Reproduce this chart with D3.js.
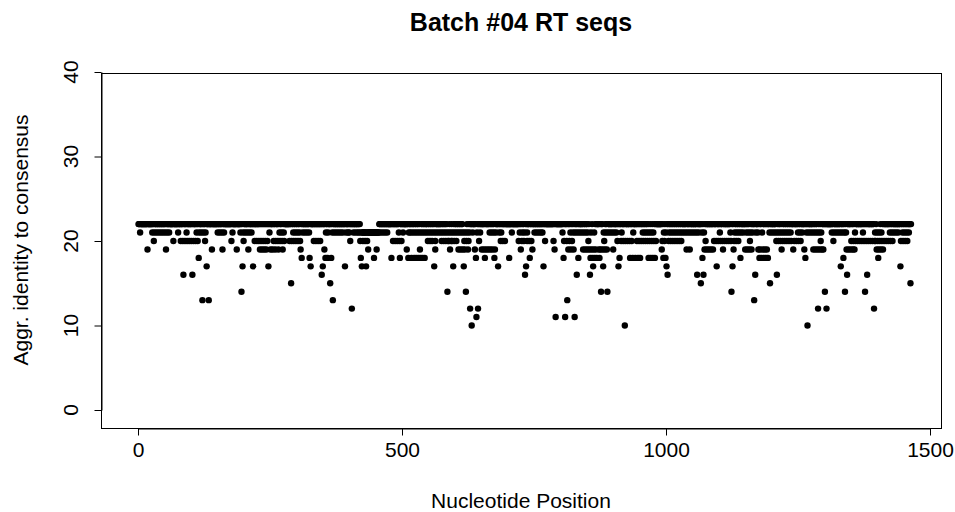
<!DOCTYPE html>
<html lang="en">
<head>
<meta charset="utf-8">
<title>Batch #04 RT seqs</title>
<script src="https://cdnjs.cloudflare.com/ajax/libs/d3/7.8.5/d3.min.js"></script>
<style>
  body { margin: 0; background: #fff; }
  text { font-family: "Liberation Sans", Arial, sans-serif; fill: #000; }
</style>
</head>
<body>
<div id="chart"></div>
<script>

// sequence length and the identity most positions reach
const seqLength = 1464;
const fullIdentity = 22;

// positions whose aggregated identity is below the full value, by level
const pos21 = [4, 27, 31, 35, 39, 43, 47, 51, 55, 59, 76, 92, 111, 116, 120, 124, 128,
  151, 155, 159, 163, 179, 194, 199, 203, 207, 211, 215, 249, 268, 272, 276,
  294, 298, 302, 306, 312, 316, 320, 324, 356, 360, 368, 372, 376, 380,
  384, 388, 394, 398, 400, 408, 412, 416, 419,
  423, 425, 427, 428, 429, 431, 433, 435, 437, 438, 439, 440, 441, 442, 443, 444, 445, 446,
  448, 449, 450, 451, 453, 454, 455, 456, 460, 464, 468, 472, 494, 502, 513,
  516, 520, 524, 528, 532, 536, 540, 544, 548, 552, 556, 560, 564, 568, 572, 576, 580,
  584, 588, 592, 596, 600, 604, 608, 612, 616, 620, 624, 628, 634, 642, 648,
  666, 670, 674, 678, 684, 688, 708, 723, 728, 732, 737, 751, 755, 759, 763, 766,
  804, 819, 824, 828, 832, 836, 840, 844, 848, 852, 858, 864, 882, 886, 890, 894, 898, 902, 906,
  916, 938, 956, 960, 964, 968, 972, 976,
  996, 1000, 1006, 1010, 1014, 1018, 1022, 1026, 1030, 1034, 1038, 1042,
  1046, 1050, 1054, 1058, 1062, 1068, 1072, 1102,
  1122, 1130, 1134, 1138, 1142, 1146, 1152, 1156, 1160, 1164, 1170, 1174, 1182,
  1196, 1200, 1204, 1208, 1212, 1216, 1220, 1224, 1228, 1232, 1236,
  1250, 1254, 1258, 1266, 1270, 1274, 1278, 1282, 1286, 1290, 1294,
  1314, 1318, 1322, 1326, 1330, 1334, 1338, 1341, 1358, 1373, 1396, 1400, 1404, 1408,
  1424, 1428, 1432, 1436, 1440, 1448, 1452, 1456, 1460];
const pos20 = [30, 67, 81, 85, 89, 93, 97, 101, 105, 109, 113, 127, 177, 200,
  221, 225, 229, 233, 237, 241, 245, 257, 261, 265, 269, 273, 277,
  287, 291, 295, 299, 303, 307, 333, 337, 341, 345, 402, 421, 426, 430, 434,
  483, 487, 491, 495, 499, 549, 553, 557, 563, 575, 579, 583, 587, 589, 593, 595, 599, 603,
  618, 622, 626, 646, 687, 691, 695, 721, 727, 731, 737, 741, 745, 771,
  787, 807, 812, 817, 822, 853, 883, 908,
  915, 919, 923, 927, 931, 935, 945, 949, 953, 957, 961, 965, 969, 973, 977, 981,
  993, 997, 1005, 1009, 1013, 1017, 1021, 1025, 1029, 1075,
  1091, 1095, 1099, 1103, 1107, 1111, 1115, 1119, 1123, 1129, 1133, 1137, 1159,
  1209, 1213, 1217, 1221, 1225, 1229, 1233, 1237, 1243, 1247, 1251, 1255, 1293, 1317,
  1351, 1355, 1359, 1363, 1367, 1371, 1375, 1379, 1383, 1387, 1391, 1395, 1397, 1401,
  1405, 1409, 1413, 1417, 1421, 1425, 1429, 1445, 1449, 1453, 1457];
const pos19 = [18, 53, 140, 160, 187, 209, 231, 235, 239, 243, 251, 255, 260, 266, 274, 308, 353,
  436, 452, 509, 534, 563, 591, 607, 611, 615, 619, 625, 638,
  651, 655, 659, 663, 667, 671, 676, 725, 747, 789, 815, 820, 825,
  843, 847, 851, 855, 859, 863, 867, 873, 876, 880, 884, 888, 900, 992, 1039, 1045,
  1073, 1077, 1081, 1085, 1089, 1108, 1128, 1150, 1154, 1158, 1162, 1175,
  1178, 1183, 1187, 1191, 1219, 1241, 1262, 1279, 1283, 1287, 1291, 1295, 1298,
  1342, 1346, 1350, 1354, 1357, 1399, 1403, 1407, 1411];
const pos18 = [115, 310, 325, 355, 359, 366, 422, 447, 480, 496, 512,
  518, 523, 527, 531, 535, 539, 543, 640, 657, 675, 703, 742,
  806, 834, 857, 861, 865, 869, 874, 912, 932, 937, 942, 947, 951, 967, 971, 975, 979, 995, 999,
  1069, 1141, 1177, 1181, 1185, 1189, 1193, 1264, 1336, 1402];
const pos17 = [130, 198, 218, 247, 327, 350, 392, 424, 432, 561, 597, 617, 682, 735, 768,
  862, 881, 910, 1001, 1096, 1126, 1331, 1444];
const pos16 = [86, 103, 348, 733, 831, 856, 1003, 1059, 1071, 1169, 1210, 1343, 1381];
const pos15 = [290, 364, 1066, 1197, 1463];
const pos14 = [196, 586, 621, 877, 889, 1124, 1301, 1339, 1377];
const pos13 = [122, 134, 369, 813, 1167];
const pos12 = [405, 629, 644, 1288, 1304, 1394];
const pos11 = [641, 791, 809, 827];
const pos10 = [632, 922, 1268];

const xTicks = [0, 500, 1000, 1500];
const yTicks = [0, 10, 20, 30, 40];

const width = 955;
const height = 512;
const boxLeft = 101, boxRight = 941, boxTop = 73, boxBottom = 428;

const levels = [
  [21, pos21], [20, pos20], [19, pos19], [18, pos18], [17, pos17], [16, pos16],
  [15, pos15], [14, pos14], [13, pos13], [12, pos12], [11, pos11], [10, pos10]
];

const listed = new Set();
let points = [];
levels.forEach(([v, list]) => list.forEach(p => {
  listed.add(p);
  points.push({pos: p, id: v});
}));
d3.range(1, seqLength + 1).forEach(p => {
  if (!listed.has(p)) points.push({pos: p, id: fullIdentity});
});

const svg = d3.select("#chart")
  .append("svg")
  .attr("width", width)
  .attr("height", height);

svg.append("rect")
  .attr("width", width).attr("height", height).attr("fill", "#fff");

const xScale = d3.scaleLinear().domain([0, 1500]).range([138, 930]);
const yScale = d3.scaleLinear().domain([0, 40]).range([410, 72]);

// points
svg.append("g")
  .selectAll("circle")
  .data(points)
  .enter()
  .append("circle")
    .attr("cx", d => xScale(d.pos))
    .attr("cy", d => yScale(d.id))
    .attr("r", 3.2)
    .attr("fill", "#000");

// box
svg.append("rect")
  .attr("x", boxLeft + 0.5).attr("y", boxTop + 0.5)
  .attr("width", boxRight - boxLeft).attr("height", boxBottom - boxTop)
  .attr("fill", "none").attr("stroke", "#000").attr("stroke-width", 1);

// x axis
const xAxis = d3.axisBottom(xScale).tickValues(xTicks).tickFormat(d3.format("d"))
  .tickSize(7).tickSizeOuter(0);
const gx = svg.append("g")
  .attr("transform", "translate(0," + (boxBottom + 0.5) + ")")
  .call(xAxis);
gx.selectAll("text").attr("font-size", 21).attr("font-family", "Liberation Sans, Arial, sans-serif")
  .attr("dy", null).attr("y", 28);

// y axis
const yAxis = d3.axisLeft(yScale).tickValues(yTicks).tickSize(7).tickSizeOuter(0).tickFormat("");
svg.append("g")
  .attr("transform", "translate(" + (boxLeft + 0.5) + ",0)")
  .call(yAxis);

svg.selectAll(".domain, .tick line").attr("stroke", "#000");

svg.append("g")
  .selectAll("text")
  .data(yTicks)
  .enter()
  .append("text")
    .attr("transform", d => "translate(78," + yScale(d) + ") rotate(-90)")
    .attr("text-anchor", "middle")
    .attr("font-size", 21)
    .text(d => d);

// titles
svg.append("text")
  .attr("x", 521).attr("y", 31)
  .attr("text-anchor", "middle")
  .attr("font-size", 25)
  .attr("font-weight", "bold")
  .text("Batch #04 RT seqs");

svg.append("text")
  .attr("x", 521).attr("y", 508)
  .attr("text-anchor", "middle")
  .attr("font-size", 21)
  .text("Nucleotide Position");

svg.append("text")
  .attr("transform", "translate(28,240) rotate(-90)")
  .attr("text-anchor", "middle")
  .attr("font-size", 21)
  .text("Aggr. identity to consensus");

</script>
</body>
</html>
